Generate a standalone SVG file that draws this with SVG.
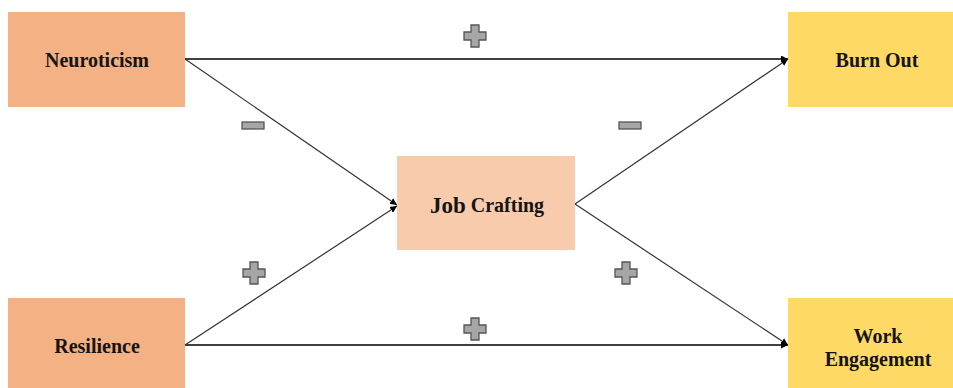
<svg xmlns="http://www.w3.org/2000/svg" width="953" height="388" viewBox="0 0 953 388">
<defs>
<style>
.lbl{font-family:"Liberation Serif","Times New Roman",serif;font-weight:bold;font-size:20px;fill:#141414;text-anchor:middle;dominant-baseline:central}
.ln{stroke:#000;stroke-width:1.3;fill:none}
.dg{stroke:#333;stroke-width:1.2;fill:none}
.sign{fill:#a6a6a6;stroke:#555;stroke-width:1.3}
</style>
<marker id="ah" viewBox="0 0 10 10" refX="10" refY="5" markerWidth="7" markerHeight="7" markerUnits="userSpaceOnUse" orient="auto">
<path d="M0,0 L10,5 L0,10 Z" fill="#000"/>
</marker>
</defs>
<rect width="953" height="388" fill="#fff"/>
<g id="connectors">
<line class="ln" x1="185" y1="59" x2="788" y2="59" marker-end="url(#ah)"/>
<line class="ln" x1="185" y1="345" x2="788" y2="345" marker-end="url(#ah)"/>
<line class="dg" x1="185" y1="59" x2="397" y2="205" marker-end="url(#ah)"/>
<line class="dg" x1="185" y1="345" x2="397" y2="206" marker-end="url(#ah)"/>
<line class="dg" x1="575" y1="204" x2="788" y2="59" marker-end="url(#ah)"/>
<line class="dg" x1="575" y1="204" x2="788" y2="345" marker-end="url(#ah)"/>
</g>
<g id="signs">
<path class="sign" d="M471,25 h8 v7 h7 v8 h-7 v7 h-8 v-7 h-7 v-8 h7 Z"/>
<path class="sign" d="M471,318 h8 v7 h7 v8 h-7 v7 h-8 v-7 h-7 v-8 h7 Z"/>
<path class="sign" d="M250,262 h8 v7 h7 v8 h-7 v7 h-8 v-7 h-7 v-8 h7 Z"/>
<path class="sign" d="M622,262 h8 v7 h7 v8 h-7 v7 h-8 v-7 h-7 v-8 h7 Z"/>
<rect class="sign" x="242" y="122" width="22" height="7"/>
<rect class="sign" x="619" y="122" width="22" height="7"/>
</g>
<g id="neuroticism">
<rect x="8" y="12" width="177" height="95" fill="#f4b183"/>
<text class="lbl" x="97" y="60">Neuroticism</text>
</g>
<g id="resilience">
<rect x="8" y="298" width="177" height="95" fill="#f4b183"/>
<text class="lbl" x="97" y="346">Resilience</text>
</g>
<g id="job-crafting">
<rect x="397" y="156" width="178" height="94" fill="#f8cbad"/>
<text class="lbl" x="487" y="205"><tspan font-size="23">Job</tspan> <tspan font-size="20">Crafting</tspan></text>
</g>
<g id="burn-out">
<rect x="788" y="12" width="178" height="95" fill="#ffd966"/>
<text class="lbl" x="877" y="60">Burn Out</text>
</g>
<g id="work-engagement">
<rect x="788" y="298" width="178" height="95" fill="#ffd966"/>
<text class="lbl" x="878" y="336">Work</text>
<text class="lbl" x="878" y="359">Engagement</text>
</g>
</svg>
